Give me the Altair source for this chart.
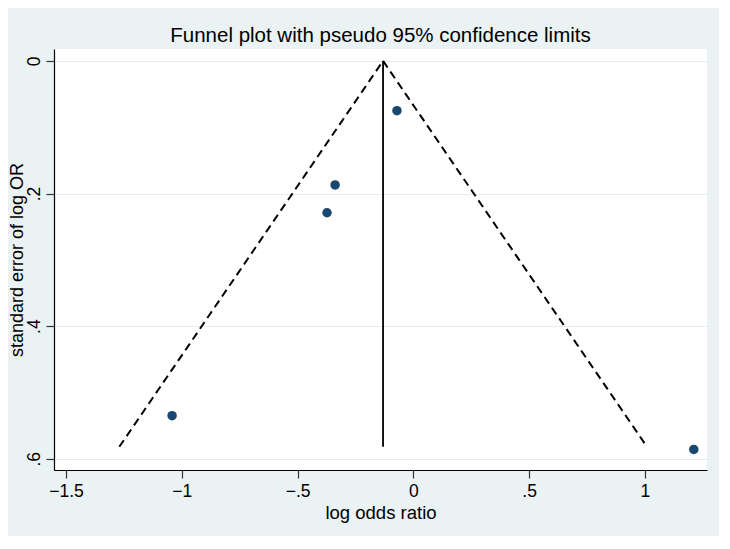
import altair as alt
import pandas as pd

# Study estimates (log odds ratio, standard error of log OR)
log_or = [-0.071, -0.338, -0.373, -1.042, 1.211]
se_log_or = [0.075, 0.187, 0.229, 0.535, 0.586]

# Pooled estimate (vertical line) and pseudo 95% limits
pooled_x = [-0.131, -0.131]
pooled_y = [0.0, 0.582]
left_limit_x = [-0.131, -1.270]
left_limit_y = [0.0, 0.582]
right_limit_x = [-0.131, 1.009]
right_limit_y = [0.0, 0.582]

x_ticks = [-1.5, -1.0, -0.5, 0.0, 0.5, 1.0]
y_ticks = [0.0, 0.2, 0.4, 0.6]

pts = pd.DataFrame({"x": log_or, "y": se_log_or})
vline = pd.DataFrame({"x": pooled_x, "y": pooled_y})
lim = pd.DataFrame({
    "x": left_limit_x + right_limit_x,
    "y": left_limit_y + right_limit_y,
    "side": ["left"] * 2 + ["right"] * 2,
})

FONT = "Liberation Sans"
W, H = 653, 421

xscale = alt.Scale(domain=[-1.552, 1.268], nice=False, zero=False)
yscale = alt.Scale(domain=[-0.018, 0.617], nice=False, zero=False, reverse=True)

xaxis = alt.Axis(
    values=x_ticks,
    labelExpr="replace(format(datum.value, '.1~f'), '0.', '.')",
    title="log odds ratio",
    grid=False,
    tickSize=8,
    labelPadding=4,
    titlePadding=4,
)
yaxis = alt.Axis(
    values=y_ticks,
    labelExpr="replace(format(datum.value, '.1~f'), '0.', '.')",
    title="standard error of log OR",
    grid=True,
    gridColor="#e3ecef",
    gridWidth=1.2,
    tickSize=8,
    labelAngle=270,
    labelAlign="center",
    labelBaseline="bottom",
    labelPadding=3,
    titleAngle=270,
    titleAlign="center",
    titleBaseline="bottom",
    titleFontSize=18,
    titleX=-28,
    titleY=H / 2,
)

lines = alt.Chart(lim).mark_line(
    color="black", strokeDash=[8, 5], strokeWidth=2
).encode(
    x=alt.X("x:Q", scale=xscale, axis=xaxis),
    y=alt.Y("y:Q", scale=yscale, axis=yaxis),
    detail="side:N",
)

vl = alt.Chart(vline).mark_line(color="black", strokeWidth=1.8).encode(
    x=alt.X("x:Q", scale=xscale),
    y=alt.Y("y:Q", scale=yscale),
)

points = alt.Chart(pts).mark_circle(
    size=90, color="#1a476f", opacity=1
).encode(
    x=alt.X("x:Q", scale=xscale),
    y=alt.Y("y:Q", scale=yscale),
)

chart = alt.layer(lines, vl, points).properties(
    width=W,
    height=H,
    title=alt.TitleParams(
        "Funnel plot with pseudo 95% confidence limits",
        anchor="middle",
        fontSize=20.5,
        font=FONT,
        fontWeight="normal",
        color="black",
        baseline="alphabetic",
        offset=7,
        dy=20,
    ),
    autosize=alt.AutoSizeParams(type="none"),
    padding={"left": 46, "top": 41, "right": 12, "bottom": 66},
    background="#eaf2f3",
).configure_view(
    fill="white", stroke=None
).configure_axis(
    domainColor="black",
    domainWidth=1.2,
    tickColor="#333333",
    tickWidth=1.2,
    labelFont=FONT,
    labelFontSize=17.5,
    labelColor="black",
    titleFont=FONT,
    titleFontSize=18.5,
    titleFontWeight="normal",
    titleColor="black",
)

chart.save("out.html", embed_options={"renderer": "svg", "actions": False})
